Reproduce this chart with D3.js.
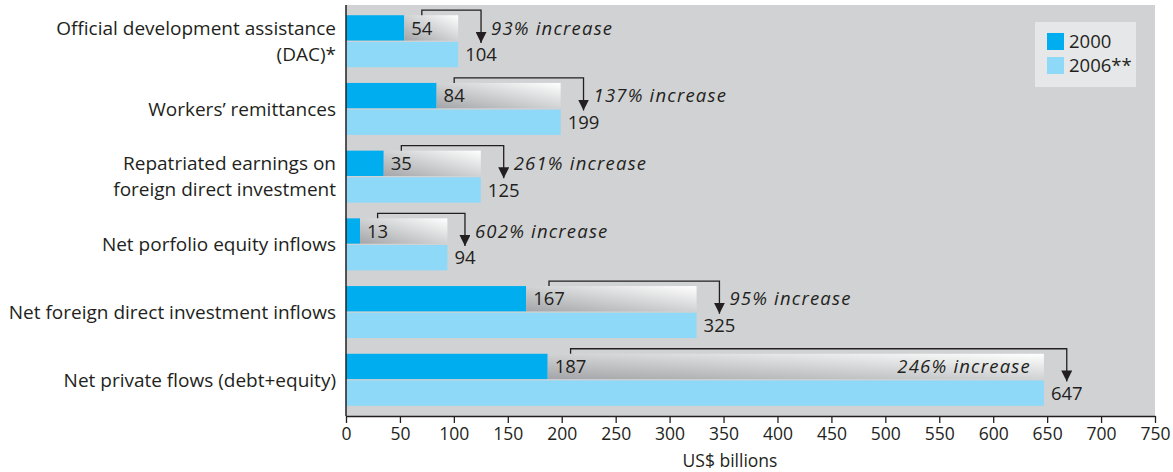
<!DOCTYPE html>
<html>
<head>
<meta charset="utf-8">
<script src="https://cdn.jsdelivr.net/npm/d3@7"></script>
<style>
  html, body { margin: 0; padding: 0; background: #ffffff; }
  svg { display: block; font-family: "Open Sans", "Noto Sans", sans-serif; }
</style>
</head>
<body>
<svg id="chart" width="1173" height="472"></svg>
<script>
// ---- data ----
const categories = [
  "Official development assistance\n(DAC)*",
  "Workers’ remittances",
  "Repatriated earnings on\nforeign direct investment",
  "Net porfolio equity inflows",
  "Net foreign direct investment inflows",
  "Net private flows (debt+equity)"
];
const seriesNames = ["2000", "2006**"];
const values2000 = [54, 84, 35, 13, 167, 187];
const values2006 = [104, 199, 125, 94, 325, 647];
const increaseLabels = ["93% increase", "137% increase", "261% increase", "602% increase", "95% increase", "246% increase"];
const tickValues = [0, 50, 100, 150, 200, 250, 300, 350, 400, 450, 500, 550, 600, 650, 700, 750];
const axisTitle = "US$ billions";

// ---- chart ----
const svg = d3.select("#chart");
const ink = "#231f20";
const col2000 = "#00aeef";
const col2006 = "#8ed8f8";

const x = d3.scaleLinear().domain([0, 750]).range([346, 1155]);
const y = d3.scaleBand().domain(categories).range([5, 416]).paddingInner(0.232).paddingOuter(0.151);
const sub = d3.scaleBand().domain(seriesNames).range([0, y.bandwidth()]).paddingInner(0.05);

const defs = svg.append("defs");
const grad = defs.append("linearGradient").attr("id", "fade")
  .attr("x1", "0").attr("y1", "1").attr("x2", "1").attr("y2", "0");
grad.append("stop").attr("offset", "0%").attr("stop-color", "#a3a5a8");
grad.append("stop").attr("offset", "100%").attr("stop-color", "#ffffff");

defs.append("marker").attr("id", "arrow")
  .attr("viewBox", "0 0 10 10").attr("refX", 10).attr("refY", 5)
  .attr("markerUnits", "userSpaceOnUse")
  .attr("markerWidth", 11).attr("markerHeight", 11).attr("orient", "auto")
  .append("path").attr("d", "M0,0 L10,5 L0,10 Z").attr("fill", ink);

// plot background
svg.append("rect")
  .attr("x", x(0)).attr("y", 5)
  .attr("width", x(750) - x(0)).attr("height", 416 - 5)
  .attr("fill", "#d1d2d4");

const rows = categories.map((c, i) => ({ cat: c, v0: values2000[i], v1: values2006[i], inc: increaseLabels[i] }));

const g = svg.append("g").selectAll("g").data(rows).join("g")
  .attr("transform", d => `translate(0,${y(d.cat)})`);

// 2000 bars
g.append("rect")
  .attr("x", x(0)).attr("y", sub("2000"))
  .attr("width", d => x(d.v0) - x(0)).attr("height", sub.bandwidth())
  .attr("fill", col2000);
// gradient extension
g.append("rect")
  .attr("x", d => x(d.v0)).attr("y", sub("2000"))
  .attr("width", d => x(d.v1) - x(d.v0)).attr("height", sub.bandwidth())
  .attr("fill", "url(#fade)");
// 2006 bars
g.append("rect")
  .attr("x", x(0)).attr("y", sub("2006**"))
  .attr("width", d => x(d.v1) - x(0)).attr("height", sub.bandwidth())
  .attr("fill", col2006);

// value labels
g.append("text")
  .attr("x", d => x(d.v0) + 7).attr("y", sub("2000") + sub.bandwidth() / 2)
  .attr("dy", "0.36em").attr("font-size", 18.5).attr("fill", ink)
  .text(d => d.v0);
g.append("text")
  .attr("x", d => x(d.v1) + 7).attr("y", sub("2006**") + sub.bandwidth() / 2)
  .attr("dy", "0.36em").attr("font-size", 18.5).attr("fill", ink)
  .text(d => d.v1);

// brackets with arrows & increase text
g.each(function(d) {
  const gg = d3.select(this);
  const t0 = gg.selectAll("text").nodes()[0];
  const t1 = gg.selectAll("text").nodes()[1];
  const xa = x(d.v0) + 7 + t0.getComputedTextLength() / 2;
  const xb = x(d.v1) + 7 + t1.getComputedTextLength() / 2;
  const top = sub("2000") - 5;
  const tip = sub("2006**") + 1;
  gg.append("path")
    .attr("d", `M${xa},${sub("2000")} V${top} H${xb} V${tip}`)
    .attr("fill", "none").attr("stroke", ink).attr("stroke-width", 1.3)
    .attr("marker-end", "url(#arrow)");
  const txt = gg.append("text")
    .attr("y", sub("2000") + sub.bandwidth() / 2).attr("dy", "0.36em")
    .attr("font-size", 18.5).attr("font-style", "italic").attr("letter-spacing", 1.2)
    .attr("fill", ink)
    .text(d.inc);
  const w = txt.node().getComputedTextLength();
  if (xb + 11 + w > x(750) - 5) {
    txt.attr("x", x(d.v1) - 13).attr("text-anchor", "end");
  } else {
    txt.attr("x", xb + 10);
  }
});

// category labels
const catG = svg.append("g").selectAll("text").data(categories).join("text")
  .attr("text-anchor", "end").attr("font-size", 19).attr("fill", ink)
  .attr("x", 336)
  .attr("y", d => y(d) + y.bandwidth() / 2);
catG.each(function(d) {
  const lines = d.split("\n");
  const t = d3.select(this);
  const lh = 26;
  lines.forEach((ln, i) => {
    t.append("tspan").attr("x", 336)
      .attr("dy", i === 0 ? `${(-(lines.length - 1) * lh / 2) + 6.8}` : lh)
      .text(ln);
  });
});

// left axis line
svg.append("line").attr("x1", x(0)).attr("x2", x(0)).attr("y1", 5).attr("y2", 416)
  .attr("stroke", ink).attr("stroke-width", 1.5);

// bottom axis
const xAxis = svg.append("g").attr("transform", "translate(0,416)")
  .call(d3.axisBottom(x).tickValues(tickValues).tickSize(7).tickSizeOuter(0).tickPadding(5));
xAxis.select(".domain").attr("stroke", ink).attr("stroke-width", 1.5);
xAxis.selectAll(".tick line").attr("stroke", ink).attr("stroke-width", 1.3);
xAxis.selectAll(".tick text").attr("font-size", 17.5).attr("fill", ink)
  .attr("font-family", "'Open Sans', 'Noto Sans', sans-serif");

svg.append("text").attr("x", 730).attr("y", 467)
  .attr("text-anchor", "middle").attr("font-size", 17.5).attr("fill", ink)
  .text(axisTitle);

// legend
const leg = svg.append("g");
leg.append("rect").attr("x", 1035).attr("y", 22).attr("width", 101).attr("height", 65).attr("fill", "#e6e7e8");
const legColors = [col2000, col2006];
seriesNames.forEach((s, i) => {
  leg.append("rect").attr("x", 1047).attr("y", 33 + i * 24).attr("width", 17).attr("height", 17).attr("fill", legColors[i]);
  leg.append("text").attr("x", 1069).attr("y", 41.5 + i * 24).attr("dy", "0.36em")
    .attr("font-size", 18.5).attr("fill", ink).text(s);
});
</script>
</body>
</html>
